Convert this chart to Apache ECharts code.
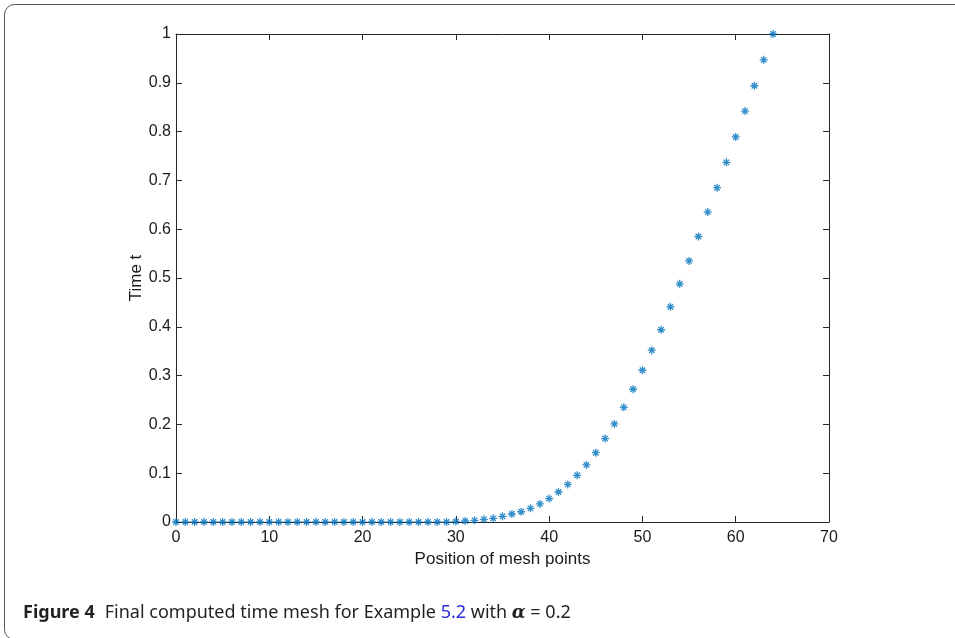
<!DOCTYPE html>
<html>
<head>
<meta charset="utf-8">
<script src="https://cdn.jsdelivr.net/npm/echarts@6/dist/echarts.min.js"></script>
<style>
  html, body { margin: 0; padding: 0; background: #fff; }
  #chart { width: 955px; height: 638px; }
</style>
</head>
<body>
<div id="chart"></div>
<script>
// mesh point positions and the computed time at each
const positions = [
  0, 1, 2, 3, 4, 5, 6, 7, 8, 9, 10, 11, 12, 13, 14, 15, 16, 17, 18, 19,
  20, 21, 22, 23, 24, 25, 26, 27, 28, 29, 30, 31, 32, 33, 34, 35, 36, 37, 38, 39,
  40, 41, 42, 43, 44, 45, 46, 47, 48, 49, 50, 51, 52, 53, 54, 55, 56, 57, 58, 59,
  60, 61, 62, 63, 64
];
const timeValues = [
  0, 0, 0, 0, 0, 0, 0, 0, 0, 0, 0, 0, 0, 0, 0, 0, 0, 0, 0, 0,
  0, 0, 0, 0, 0, 0, 0, 0, 0, 0, 0.001, 0.002, 0.0034, 0.0055, 0.0075, 0.0116, 0.0164, 0.021, 0.028, 0.037,
  0.048, 0.0615, 0.077, 0.0957, 0.117, 0.142, 0.171, 0.201, 0.235, 0.272, 0.311, 0.352, 0.394, 0.441, 0.488, 0.535, 0.585, 0.635, 0.685, 0.737,
  0.789, 0.842, 0.894, 0.947, 1.0
];
const xTicks = [0, 10, 20, 30, 40, 50, 60, 70];
const yTicks = [0, 0.1, 0.2, 0.3, 0.4, 0.5, 0.6, 0.7, 0.8, 0.9, 1];

const axisColor = "#262626";
const markColor = "#0072BD";

const points = positions.map((p, i) => [p, timeValues[i]]);

const myChart = echarts.init(document.getElementById("chart"));

// shared bits for the box axes
const lineStyle = { color: axisColor, width: 1 };
const tickStyle = { show: true, inside: true, length: 6, lineStyle: { color: axisColor, width: 1 } };
const labelStyle = { color: "#1a1a1a", fontSize: 16, fontFamily: "Liberation Sans, Arial, sans-serif" };
const nameStyle = { color: "#1a1a1a", fontSize: 17, fontFamily: "Liberation Sans, Arial, sans-serif" };

const option = {
  animation: false,
  backgroundColor: "#fff",
  grid: { left: 176, right: 126, top: 34, bottom: 116, containLabel: false },
  xAxis: [
    {
      type: "value",
      min: xTicks[0],
      max: xTicks[xTicks.length - 1],
      interval: 10,
      name: "Position of mesh points",
      nameLocation: "middle",
      nameGap: 29,
      nameMoveOverlap: false,
      nameTextStyle: nameStyle,
      axisLine: { show: true, onZero: false, lineStyle },
      axisTick: tickStyle,
      axisLabel: Object.assign({ margin: 8 }, labelStyle),
      splitLine: { show: false },
    },
    {
      type: "value",
      position: "top",
      min: 0,
      max: 70,
      interval: 10,
      axisLine: { show: true, onZero: false, lineStyle },
      axisTick: tickStyle,
      axisLabel: { show: false },
      splitLine: { show: false },
    },
  ],
  yAxis: [
    {
      type: "value",
      min: yTicks[0],
      max: yTicks[yTicks.length - 1],
      interval: 0.1,
      name: "Time t",
      nameLocation: "middle",
      nameGap: 31,
      nameMoveOverlap: false,
      nameTextStyle: nameStyle,
      axisLine: { show: true, onZero: false, lineStyle },
      axisTick: tickStyle,
      axisLabel: Object.assign({ margin: 5, formatter: (v) => String(+v.toFixed(1)) }, labelStyle),
      splitLine: { show: false },
    },
    {
      type: "value",
      position: "right",
      min: 0,
      max: 1,
      interval: 0.1,
      axisLine: { show: true, onZero: false, lineStyle },
      axisTick: tickStyle,
      axisLabel: { show: false },
      splitLine: { show: false },
    },
  ],
  series: [
    {
      type: "scatter",
      data: points,
      symbol: "path://M5 0L5 10M0 5L10 5M1.6 1.6L8.4 8.4M8.4 1.6L1.6 8.4",
      symbolSize: 8,
      itemStyle: { color: "rgba(0,0,0,0)", borderColor: markColor, borderWidth: 1.3 },
      clip: false,
    },
  ],
  graphic: [
    {
      type: "rect",
      shape: { x: 4.5, y: 4.5, width: 1000, height: 635, r: 10 },
      style: { fill: "none", stroke: "#555", lineWidth: 1 },
      silent: true,
    },
    {
      type: "text",
      left: 23,
      top: 604,
      style: {
        text: "{b|Figure 4}   {n|Final computed time mesh for Example }{l|5.2}{n| with }{a|α}{n| = 0.2}",
        rich: {
          b: { fontFamily: "Noto Sans", fontWeight: "bold", fontSize: 18, fill: "#231f20" },
          n: { fontFamily: "Noto Sans", fontSize: 18, fill: "#231f20" },
          l: { fontFamily: "Noto Sans", fontSize: 18, fill: "#2b2bd8" },
          a: { fontFamily: "DejaVu Serif", fontStyle: "italic", fontWeight: "bold", fontSize: 18, fill: "#231f20" },
        },
      },
      silent: true,
    },
  ],
};

myChart.setOption(option);
</script>
</body>
</html>
